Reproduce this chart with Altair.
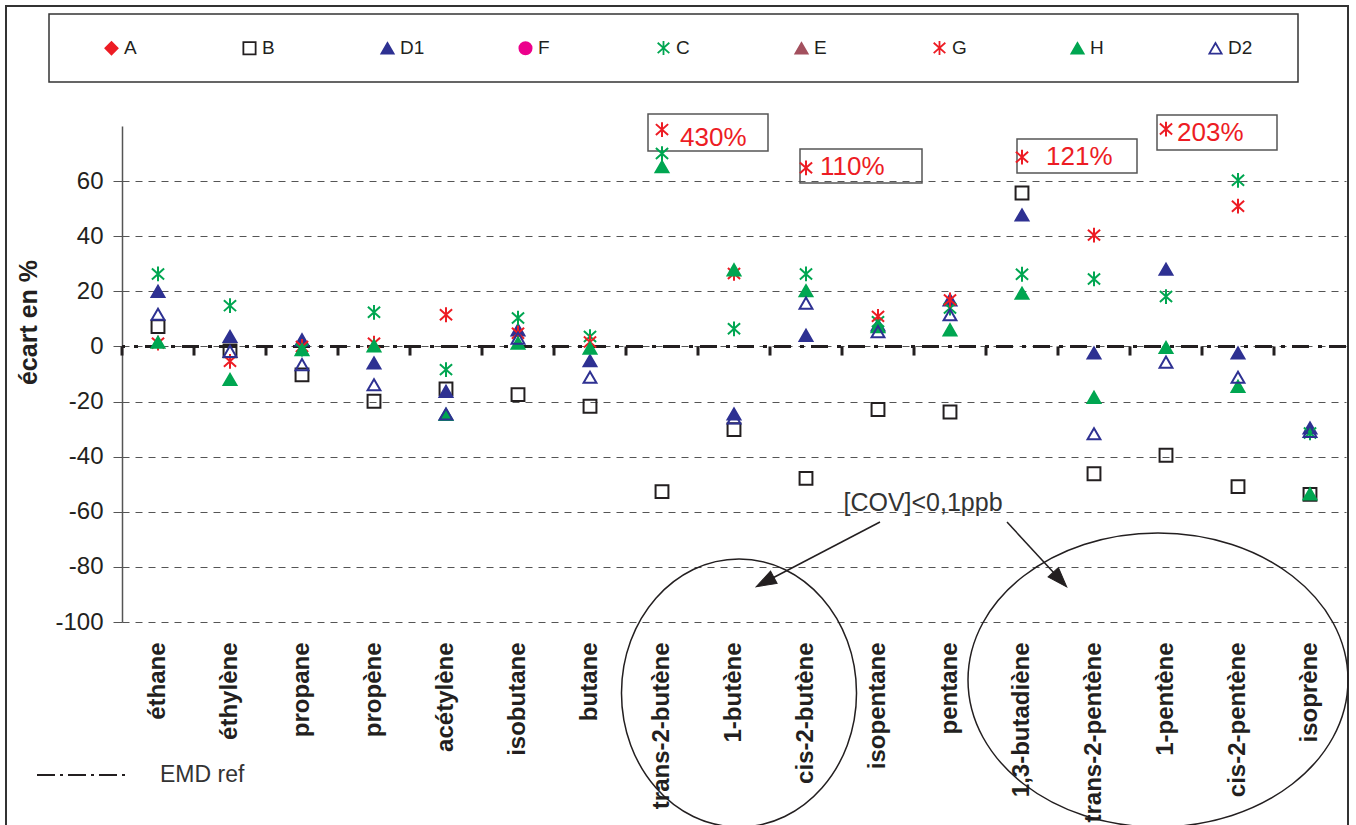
import altair as alt
import pandas as pd

cats = ["éthane", "éthylène", "propane", "propène", "acétylène", "isobutane", "butane",
        "trans-2-butène", "1-butène", "cis-2-butène", "isopentane", "pentane",
        "1,3-butadiène", "trans-2-pentène", "1-pentène", "cis-2-pentène", "isoprène"]

series_names = ["A", "B", "D1", "F", "C", "E", "G", "H", "D2"]

A = [None] * 17
B = [7.2, -1.6, -10.3, -19.9, -15.4, -17.5, -21.7, -52.7, -30.2, -47.9, -22.9, -23.8, 55.7, -46.2, -39.5, -50.9, -53.7]
D1 = [20.0, 3.6, 2.4, -6.0, -16.3, 6.0, -5.2, None, -24.5, 4.0, 7.8, 16.9, 47.7, -2.4, 28.0, -2.4, -29.6]
F = [None] * 17
C = [26.3, 14.8, -1.0, 12.4, -8.4, 10.3, 3.6, 70.0, 6.4, 26.3, 9.0, 13.9, 26.2, 24.5, 18.1, 60.3, -31.4]
E = [None] * 17
G = [1.2, -5.4, 0.0, 1.2, 11.5, 4.8, 1.6, 78.7, 26.5, 64.8, 10.9, 16.9, 68.7, 40.4, 78.9, 50.9, None]
H = [1.5, -12.0, -1.2, 0.2, -24.7, 1.2, -0.6, 65.2, 27.8, 20.2, 7.2, 6.0, 19.3, -18.5, -0.4, -14.5, -53.5]
D2 = [11.7, -1.8, -6.6, -13.9, -24.5, 3.0, -11.2, None, -25.9, 15.7, 5.4, 11.5, None, -31.7, -5.7, -11.2, -30.8]

series_values = [A, B, D1, F, C, E, G, H, D2]

# off-scale annotations
ann_cats = ["trans-2-butène", "cis-2-butène", "1,3-butadiène", "1-pentène"]
ann_labels = ["430%", "110%", "121%", "203%"]
ann_y = [75.6, 65.2, 68.8, 77.6]
ann_dx = [18, 14, 24, 11]

y_ticks = [-100, -80, -60, -40, -20, 0, 20, 40, 60]

RED = "#ED1C24"
NAVY = "#2E3192"
MAG = "#EC008C"
GREEN = "#00A651"
BROWN = "#A3505E"
BLACK = "#231F20"
GRAY = "#555555"
FONT = "Liberation Sans"

AST = "M0,-1.15L0,1.15M-0.95,-0.85L0.95,0.85M-0.95,0.85L0.95,-0.85"

rows = []
for name, vals in zip(series_names, series_values):
    for c, v in zip(cats, vals):
        if v is not None:
            rows.append({"series": name, "cat": c, "v": v})
df = pd.DataFrame(rows)
one = pd.DataFrame({"k": [0]})

xscale = alt.Scale(type="band", domain=cats, paddingInner=0, paddingOuter=0)
yscale = alt.Scale(domain=[-100, 80], nice=False, zero=False)

xaxis = alt.Axis(title=None, ticks=False, domain=False, grid=False, labelAngle=-90,
                 labelFontSize=24, labelFontWeight="bold", labelColor=BLACK,
                 labelPadding=20, labelLimit=400, labelFont=FONT)
yaxis = alt.Axis(values=y_ticks, grid=True, gridDash=[7, 6], gridColor=GRAY, gridWidth=1,
                 domainColor=GRAY, domainWidth=1.5, tickColor=GRAY, tickSize=9, tickWidth=1,
                 labelFontSize=24, labelColor=BLACK, labelPadding=10, labelFont=FONT,
                 labelExpr="toString(datum.value)",
                 title="écart en %", titleFontSize=25, titleFontWeight="bold",
                 titleColor=BLACK, titleFont=FONT, titleX=-94, titleY=196,
                 titleBaseline="middle")

leg = alt.Legend(title=None, orient="none", legendX=-20, legendY=-88, direction="horizontal",
                 columns=9, gridAlign="all", columnPadding=90, labelFontSize=19,
                 labelColor=BLACK, labelFont=FONT, labelOffset=3, symbolSize=150,
                 symbolStrokeWidth=1.8, padding=0)

stroke_range = [RED, BLACK, NAVY, MAG, GREEN, BROWN, RED, GREEN, NAVY]
fill_range = [RED, "transparent", NAVY, MAG, "transparent", BROWN, "transparent", GREEN, "transparent"]
shape_range = ["diamond", "square", "triangle-up", "circle", AST, "triangle-up", AST, "triangle-up", "triangle-up"]

points = alt.Chart(df).mark_point(size=165, strokeWidth=2, opacity=1).encode(
    x=alt.X("cat:N", scale=xscale, axis=xaxis, sort=cats),
    y=alt.Y("v:Q", scale=yscale, axis=yaxis),
    stroke=alt.Stroke("series:N", scale=alt.Scale(domain=series_names, range=stroke_range), legend=leg),
    fill=alt.Fill("series:N", scale=alt.Scale(domain=series_names, range=fill_range), legend=leg),
    shape=alt.Shape("series:N", scale=alt.Scale(domain=series_names, range=shape_range), legend=leg),
)

zero_line = alt.Chart(one).mark_rule(color=BLACK, strokeWidth=3, strokeDash=[17, 7, 4, 9]).encode(
    y=alt.datum(0)
)

ticks = alt.Chart(pd.DataFrame({"cat": cats})).mark_rule(color=BLACK, strokeWidth=3).encode(
    x=alt.X("cat:N", scale=xscale, sort=cats, bandPosition=0),
    y=alt.datum(0),
    y2=alt.datum(-3.3),
)

layers = []

# outer frame and legend frame
layers.append(alt.Chart(one).mark_rect(fillOpacity=0, stroke="#333333", strokeWidth=2).encode(
    x=alt.value(-116), x2=alt.value(1226), y=alt.value(-120), y2=alt.value(704)))
layers.append(alt.Chart(one).mark_rect(fillOpacity=0, stroke="#333333", strokeWidth=1.5).encode(
    x=alt.value(-73), x2=alt.value(1176), y=alt.value(-112), y2=alt.value(-44)))

# annotation boxes
boxes = [(526, 646, -12, 25), (678, 800, 23, 57), (895, 1015, 13, 47), (1035, 1155, -11, 24)]
for (bx1, bx2, by1, by2) in boxes:
    layers.append(alt.Chart(one).mark_rect(fillOpacity=0, stroke=GRAY, strokeWidth=1.5).encode(
        x=alt.value(bx1), x2=alt.value(bx2), y=alt.value(by1), y2=alt.value(by2)))

layers += [zero_line, ticks, points]

for c, lab, yv, dx in zip(ann_cats, ann_labels, ann_y, ann_dx):
    layers.append(alt.Chart(pd.DataFrame({"cat": [c], "v": [yv], "label": [lab]})).mark_text(
        align="left", baseline="middle", dx=dx, fontSize=26, color=RED, font=FONT).encode(
        x=alt.X("cat:N", scale=xscale, sort=cats), y=alt.Y("v:Q", scale=yscale), text="label:N"))

# [COV] note, arrows and ellipses
layers.append(alt.Chart(one).mark_text(align="center", baseline="middle", fontSize=25,
                                       color="#333333", font=FONT, text="[COV]<0,1ppb").encode(
    x=alt.value(801), y=alt.value(377)))

def ellipse(a, b):
    k = 0.5523
    return (f"M{a},0C{a},{k*b:.4f} {k*a:.4f},{b} 0,{b}C{-k*a:.4f},{b} {-a},{k*b:.4f} {-a},0"
            f"C{-a},{-k*b:.4f} {-k*a:.4f},{-b} 0,{-b}C{k*a:.4f},{-b} {a},{-k*b:.4f} {a},0Z")

layers.append(alt.Chart(one).mark_point(shape=ellipse(0.877, 1), size=71824, filled=False,
                                        stroke=BLACK, strokeWidth=1.5, opacity=1).encode(
    x=alt.value(617), y=alt.value(567)))
layers.append(alt.Chart(one).mark_point(shape=ellipse(1, 0.774), size=144400, filled=False,
                                        stroke=BLACK, strokeWidth=1.5, opacity=1).encode(
    x=alt.value(1036), y=alt.value(554)))

arrows = [((758, 396), (643, 456), 242), ((885, 396), (938, 453.6), 137.5)]
HEAD = "M0,-1L-0.7,1L0.7,1Z"
for (sx, sy), (ex, ey), ang in arrows:
    layers.append(alt.Chart(one).mark_rule(color=BLACK, strokeWidth=1.5).encode(
        x=alt.value(sx), y=alt.value(sy), x2=alt.value(ex), y2=alt.value(ey)))
    layers.append(alt.Chart(one).mark_point(shape=HEAD, size=400, filled=True, fill=BLACK,
                                            stroke=BLACK, strokeWidth=1, opacity=1, angle=ang).encode(
        x=alt.value(ex), y=alt.value(ey)))

# EMD ref legend
layers.append(alt.Chart(one).mark_rule(color=BLACK, strokeWidth=2, strokeDash=[18, 5, 3, 5]).encode(
    x=alt.value(-85), x2=alt.value(8), y=alt.value(649)))
layers.append(alt.Chart(one).mark_text(align="left", baseline="middle", fontSize=23,
                                       color="#333333", font=FONT, text="EMD ref").encode(
    x=alt.value(38), y=alt.value(649)))

chart = alt.layer(*layers).properties(
    width=1224, height=496,
    padding={"left": 122, "top": 126, "right": 10, "bottom": 203},
    autosize=alt.AutoSizeParams(type="none"),
    background="white",
).configure(font=FONT).configure_view(strokeWidth=0, stroke="transparent")

chart.save("out.html", embed_options={"renderer": "svg", "actions": False})
